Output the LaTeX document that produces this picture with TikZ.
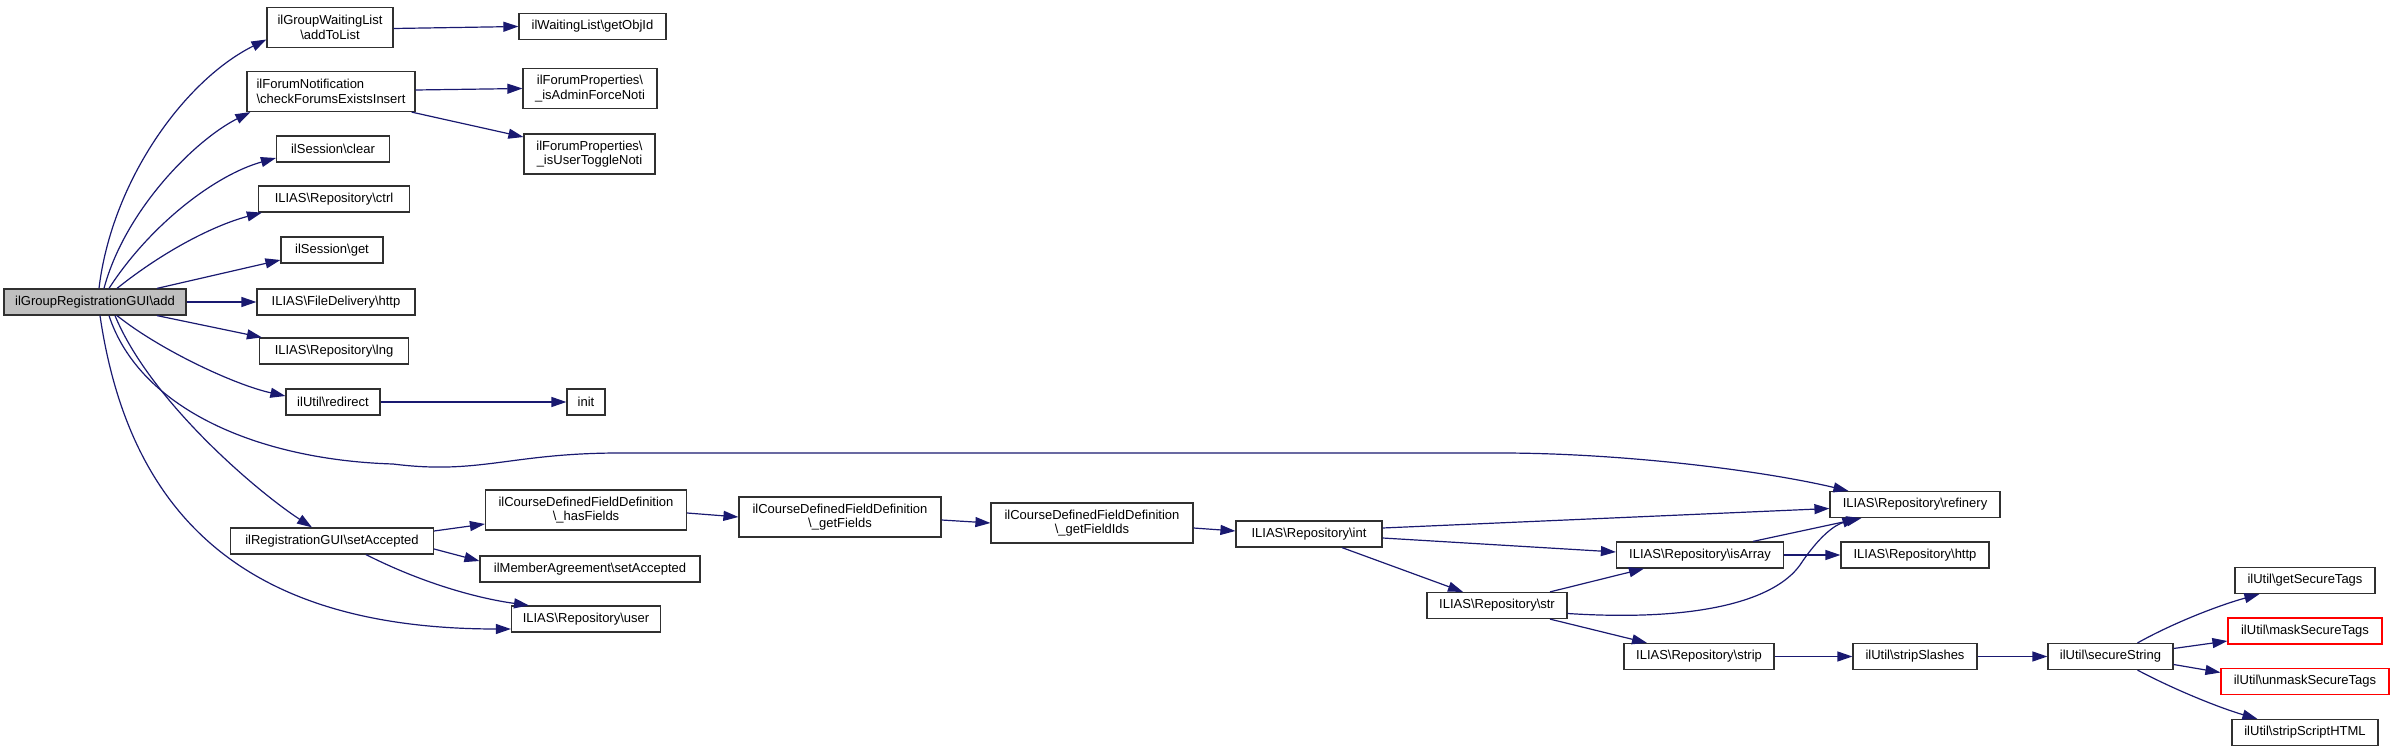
\documentclass[tikz,border=0pt]{standalone}
\usepackage{fontspec}
\setmainfont{Liberation Sans}
\usetikzlibrary{arrows.meta}
\definecolor{edgeblue}{HTML}{191970}
\definecolor{addgray}{HTML}{BFBFBF}
\definecolor{warnred}{HTML}{FF0000}
\definecolor{boxline}{HTML}{303030}
\begin{document}
\begin{tikzpicture}[x=1pt,y=-1pt,
  box/.style={draw=boxline, line width=1.2pt, fill=white, inner sep=0pt, align=center,
    font=\fontsize{13}{14.5}\selectfont, minimum height=26pt},
  two/.style={minimum height=40pt},
  redbox/.style={draw=warnred},
  edge/.style={draw=edgeblue, line width=1.2pt, -{Triangle[length=15pt,width=10pt]}},
]
\useasboundingbox (0,0) rectangle (2395,751);

% nodes
\node[box, fill=addgray, minimum width=182pt] (add) at (95,302) {ilGroupRegistrationGUI\textbackslash add};
\node[box, two, minimum width=126pt] (addToList) at (330,27.5) {ilGroupWaitingList\\\textbackslash addToList};
\node[box, minimum width=147pt] (getObjId) at (592.5,26.5) {ilWaitingList\textbackslash getObjId};
\node[box, two, minimum width=168pt, align=left] (checkForums) at (331,91.5) {ilForumNotification\\\textbackslash checkForumsExistsInsert};
\node[box, two, minimum width=134pt] (isAdmin) at (590,88.5) {ilForumProperties\textbackslash\\\_isAdminForceNoti};
\node[box, two, minimum width=131pt] (isUser) at (589.5,154) {ilForumProperties\textbackslash\\\_isUserToggleNoti};
\node[box, minimum width=113pt] (sclear) at (333,149) {ilSession\textbackslash clear};
\node[box, minimum width=151pt] (ctrl) at (334,199) {ILIAS\textbackslash Repository\textbackslash ctrl};
\node[box, minimum width=102pt] (sget) at (332,250) {ilSession\textbackslash get};
\node[box, minimum width=158pt] (fhttp) at (336,302) {ILIAS\textbackslash FileDelivery\textbackslash http};
\node[box, minimum width=149pt] (lng) at (334,351) {ILIAS\textbackslash Repository\textbackslash lng};
\node[box, minimum width=94pt] (redirect) at (333,402) {ilUtil\textbackslash redirect};
\node[box, minimum width=38pt] (init) at (586,402) {init};
\node[box, minimum width=203pt] (setAcc) at (332,541) {ilRegistrationGUI\textbackslash setAccepted};
\node[box, two, minimum width=201pt] (hasFields) at (586,510) {ilCourseDefinedFieldDefinition\\\textbackslash\_hasFields};
\node[box, minimum width=220pt] (member) at (590,569) {ilMemberAgreement\textbackslash setAccepted};
\node[box, minimum width=149pt] (user) at (586,619) {ILIAS\textbackslash Repository\textbackslash user};
\node[box, two, minimum width=202pt] (getFields) at (840,517) {ilCourseDefinedFieldDefinition\\\textbackslash\_getFields};
\node[box, two, minimum width=202pt] (getFieldIds) at (1092,523) {ilCourseDefinedFieldDefinition\\\textbackslash\_getFieldIds};
\node[box, minimum width=146pt] (int) at (1309,534) {ILIAS\textbackslash Repository\textbackslash int};
\node[box, minimum width=170pt] (refinery) at (1915,504.5) {ILIAS\textbackslash Repository\textbackslash refinery};
\node[box, minimum width=167pt] (isArray) at (1700,555) {ILIAS\textbackslash Repository\textbackslash isArray};
\node[box, minimum width=148pt] (rhttp) at (1915,555) {ILIAS\textbackslash Repository\textbackslash http};
\node[box, minimum width=140pt] (str) at (1497,605.5) {ILIAS\textbackslash Repository\textbackslash str};
\node[box, minimum width=150pt] (strip) at (1699,656.5) {ILIAS\textbackslash Repository\textbackslash strip};
\node[box, minimum width=124pt] (stripSlashes) at (1915,656.5) {ilUtil\textbackslash stripSlashes};
\node[box, minimum width=125pt] (secure) at (2110.5,656.5) {ilUtil\textbackslash secureString};
\node[box, minimum width=140pt] (gst) at (2305,580.5) {ilUtil\textbackslash getSecureTags};
\node[box, redbox, minimum width=154pt] (mask) at (2305,631) {ilUtil\textbackslash maskSecureTags};
\node[box, redbox, minimum width=168pt] (unmask) at (2305,681.5) {ilUtil\textbackslash unmaskSecureTags};
\node[box, minimum width=146pt] (ssh) at (2305,732.5) {ilUtil\textbackslash stripScriptHTML};

% edges from add
\draw[edge] ([xshift=4pt]add.north) .. controls (112,180) and (185,80) .. ([yshift=-12pt]addToList.west);
\draw[edge] ([xshift=9pt]add.north) .. controls (125,210) and (195,140) .. ([xshift=4pt]checkForums.south west);
\draw[edge] ([xshift=14pt]add.north) .. controls (150,225) and (215,175) .. ([yshift=-9pt]sclear.west);
\draw[edge] ([xshift=22pt]add.north) .. controls (165,250) and (215,225) .. ([xshift=4pt]ctrl.south west);
\draw[edge] ([xshift=62pt]add.north) -- ([yshift=-10pt]sget.west);
\draw[edge] (add.east) -- (fhttp.west);
\draw[edge] ([xshift=62pt]add.south) -- ([xshift=3pt]lng.north west);
\draw[edge] ([xshift=22pt]add.south) .. controls (160,350) and (235,385) .. ([yshift=6pt]redirect.west);
\coordinate (r1) at (393,464);
\coordinate (r2) at (620,453);
\coordinate (r3) at (1500,453);
\draw[edge] ([xshift=14pt]add.south) .. controls (140,410) and (260,460) .. (r1)
  .. controls (480,475) and (510,453) .. (r2) -- (r3)
  .. controls (1620,453) and (1760,470) .. ([xshift=19pt]refinery.north west);
\draw[edge] ([xshift=20pt]add.south) .. controls (150,400) and (255,490) .. ([xshift=-20pt]setAcc.north);
\draw[edge] ([xshift=5pt]add.south) .. controls (130,520) and (250,629) .. ([yshift=-10pt]user.west);

% other edges
\draw[edge] ([yshift=-1pt]addToList.east) -- (getObjId.west);
\draw[edge] ([yshift=1.5pt]checkForums.east) -- (isAdmin.west);
\draw[edge] ([xshift=-4pt]checkForums.south east) -- ([yshift=17pt]isUser.west);
\draw[edge] (redirect.east) -- (init.west);
\draw[edge] ([yshift=10pt]setAcc.east) -- ([yshift=-14pt]hasFields.west);
\draw[edge] ([yshift=-8pt]setAcc.east) -- ([yshift=8pt]member.west);
\draw[edge] ([xshift=34pt]setAcc.south) .. controls (420,582) and (475,598) .. ([xshift=-57pt]user.north);
\draw[edge] ([yshift=-3pt]hasFields.east) -- (getFields.west);
\draw[edge] ([yshift=-3pt]getFields.east) -- (getFieldIds.west);
\draw[edge] ([yshift=-5pt]getFieldIds.east) -- ([yshift=3pt]int.west);
\draw[edge] ([yshift=6pt]int.east) -- ([yshift=-4pt]refinery.west);
\draw[edge] ([yshift=-4pt]int.east) -- ([yshift=3pt]isArray.west);
\draw[edge] ([xshift=33pt]int.south) -- ([xshift=-34pt]str.north);
\draw[edge] ([xshift=53pt]isArray.north) -- ([xshift=32pt]refinery.south west);
\draw[edge] (isArray.east) -- (rhttp.west);
\draw[edge] ([xshift=53pt]str.north) -- ([xshift=-56pt]isArray.south);
\coordinate (s1) at (1800,565);
\draw[edge] ([yshift=-8pt]str.east) .. controls (1700,622) and (1775,600) .. (s1)
  .. controls (1820,535) and (1835,525) .. ([xshift=28pt]refinery.south west);
\draw[edge] ([xshift=53pt]str.south) -- ([xshift=-52pt]strip.north);
\draw[edge] (strip.east) -- (stripSlashes.west);
\draw[edge] (stripSlashes.east) -- (secure.west);
\draw[edge] ([xshift=27pt]secure.north) .. controls (2175,622) and (2220,605) .. ([xshift=25pt]gst.south west);
\draw[edge] ([yshift=8pt]secure.east) -- ([yshift=-10pt]mask.west);
\draw[edge] ([yshift=-8pt]secure.east) -- ([yshift=9pt]unmask.west);
\draw[edge] ([xshift=27pt]secure.south) .. controls (2175,690) and (2220,708) .. ([xshift=26pt]ssh.north west);
\end{tikzpicture}
\end{document}
